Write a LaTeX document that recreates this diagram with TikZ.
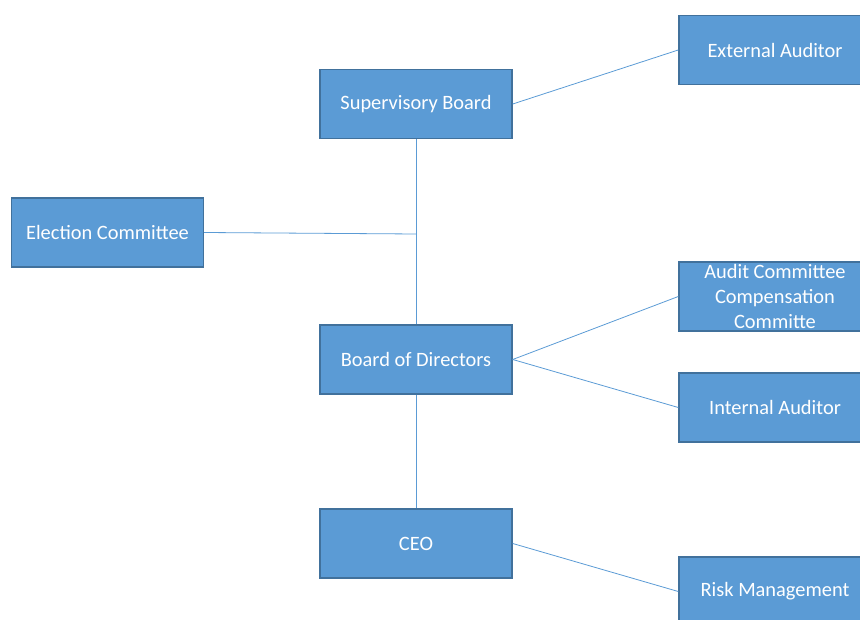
\documentclass[tikz,border=0pt]{standalone}
\usepackage{fontspec}
\setmainfont{Carlito}
\usepackage{tikz}
\usetikzlibrary{positioning,calc}

\definecolor{boxfill}{HTML}{5B9BD5}
\definecolor{boxline}{HTML}{41719C}
\definecolor{linkline}{HTML}{5B9BD5}

\begin{document}
\begin{tikzpicture}[%
x=0.75pt,
y=-0.75pt,
box/.style={draw=boxline, fill=boxfill, text=white, line width=1.1pt,
  minimum width=144pt, minimum height=51.75pt, align=center,
  font=\fontsize{15.3}{18.4}\selectfont, inner sep=1pt},
link/.style={draw=linkline, line width=0.6pt}
]
\useasboundingbox (0,0) rectangle (860,620);
\clip (0,0) rectangle (860,620);

\node[box] (sup) at (416,104) {Supervisory Board};
\node[box] (ext) at (775,50) {External Auditor};
\node[box] (elect) at (107.5,232.5) {Election Committee};
\node[box] (bod) at (416,359.5) {Board of Directors};
\node[box] (audit) at (775,296.5) {Audit Committee\\Compensation\\Committe};
\node[box] (int) at (775,407.5) {Internal Auditor};
\node[box] (ceo) at (416,543.5) {CEO};
\node[box] (risk) at (775,591.5) {Risk Management};
\coordinate (join) at (416,234);

% links
\path[link] (sup.east) -- (ext.west);
\path[link] (sup.south) -- (bod.north);
\path[link] (elect.east) -- (join);
\path[link] (bod.east) -- (audit.west);
\path[link] (bod.east) -- (int.west);
\path[link] (bod.south) -- (ceo.north);
\path[link] (ceo.east) -- (risk.west);
\end{tikzpicture}
\end{document}
